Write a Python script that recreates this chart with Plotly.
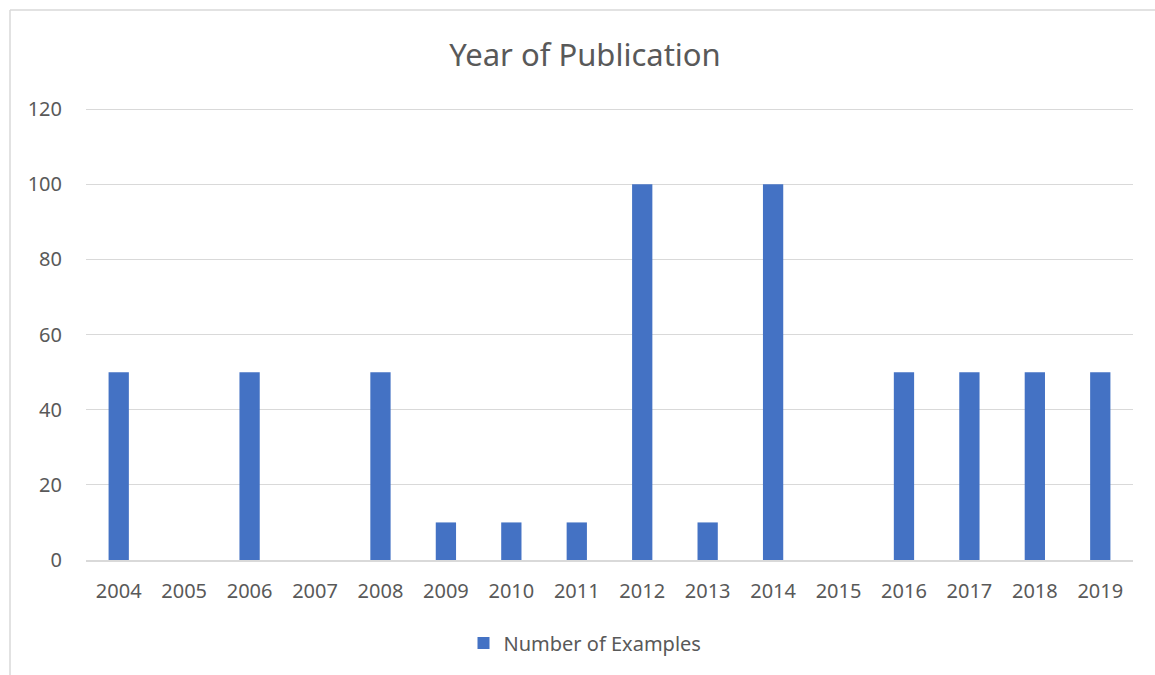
import plotly.graph_objects as go

years = ["2004", "2005", "2006", "2007", "2008", "2009", "2010", "2011",
         "2012", "2013", "2014", "2015", "2016", "2017", "2018", "2019"]
examples = [50, 0, 50, 0, 50, 10, 10, 10, 100, 10, 100, 0, 50, 50, 50, 50]
y_ticks = [0, 20, 40, 60, 80, 100, 120]

W, H = 1155, 675
L, R, T, B = 86, 22, 108, 115
pw, ph = W - L - R, H - T - B

fig = go.Figure(go.Bar(
    x=years, y=examples, name="Number of Examples",
    marker=dict(color="#4472C4", line=dict(width=0)),
    showlegend=True,
))

font = "Noto Sans, Open Sans, sans-serif"
fig.update_layout(
    width=W, height=H,
    margin=dict(l=L, r=R, t=T, b=B),
    paper_bgcolor="white", plot_bgcolor="white",
    bargap=0.69,
    font=dict(family=font, color="#595959", size=20),
    title=dict(text="Year of Publication", x=585 / W, xref="container",
               xanchor="center", y=1 - 55 / H, yref="container", yanchor="middle",
               font=dict(size=31, color="#595959", family=font)),
    xaxis=dict(type="category", showgrid=False, showline=True,
               linecolor="#d9d9d9", linewidth=1.5, ticks="",
               tickfont=dict(size=20, color="#595959"), ticklabelstandoff=12),
    yaxis=dict(range=[0, 120.3], tickvals=y_ticks, showgrid=True,
               gridcolor="#d9d9d9", gridwidth=1.3, zeroline=False,
               showline=False, ticks="", tickfont=dict(size=20, color="#595959"),
               ticklabelstandoff=23),
    legend=dict(orientation="h", x=(585 - L) / pw, xanchor="center",
                y=(T + ph - 643) / ph, yanchor="middle",
                font=dict(size=20, color="#595959"), itemwidth=30),
    shapes=[
        dict(type="line", xref="paper", yref="paper",
             x0=(10 - L) / pw, x1=(10 - L) / pw, y0=(T + ph - 10) / ph, y1=(T + ph - 700) / ph,
             line=dict(color="#d9d9d9", width=1.5)),
        dict(type="line", xref="paper", yref="paper",
             x0=(10 - L) / pw, x1=(1200 - L) / pw, y0=(T + ph - 10) / ph, y1=(T + ph - 10) / ph,
             line=dict(color="#d9d9d9", width=1.5)),
    ],
)

fig.write_html("out.html")
